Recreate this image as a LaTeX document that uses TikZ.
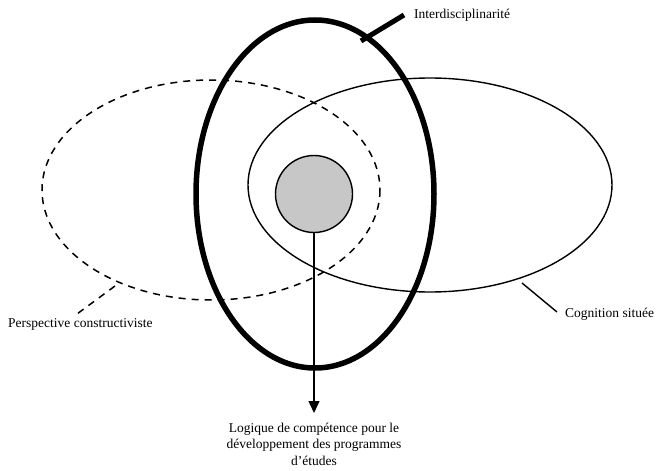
\documentclass[tikz,border=0pt]{standalone}
\usepackage{fontspec}
\setmainfont{Liberation Serif}
\usetikzlibrary{arrows.meta}
\begin{document}
\begin{tikzpicture}[x=1pt,y=-1pt,
  thin line/.style={line width=1.4pt},
  dash line/.style={line width=1.5pt,dash pattern=on 7pt off 6pt},
  thick line/.style={line width=5.5pt},
  lbl/.style={font=\fontsize{13.5}{16.5}\selectfont,inner sep=0pt}]
\useasboundingbox (0,0) rectangle (657,471);
\fill[white] (0,0) rectangle (657,471);
% dashed ellipse
\draw[dash line] (211,190) ellipse[x radius=169,y radius=110];
% cognition ellipse
\draw[thin line] (430,185) ellipse[x radius=182,y radius=107];
% thick ellipse
\draw[thick line] (315,194) ellipse[x radius=119,y radius=174];
% gray circle
\node[circle,draw,line width=1.4pt,fill=black!22,minimum size=77pt,inner sep=0pt] (core) at (314,194) {};
% labels
\node[lbl,anchor=base west] (inter) at (414,19) {Interdisciplinarité};
\node[lbl,anchor=base west] (persp) at (8,327) {Perspective constructiviste};
\node[lbl,anchor=base west] (cog) at (565,317) {Cognition située};
\node[lbl,align=center,anchor=base] (logic) at (314,465) {Logique de compétence pour le\\développement des programmes\\d’études};
% connectors
\coordinate (interA) at (361,41);
\coordinate (interB) at (404,15);
\draw[line width=5pt] (interA) -- (interB);
\coordinate (perA) at (115,286);
\coordinate (perB) at (77,314);
\draw[dash line] (perA) -- (perB);
\coordinate (cogA) at (522,283);
\coordinate (cogB) at (557,312);
\draw[thin line] (cogA) -- (cogB);
\coordinate (arrowEnd) at (314,413);
\draw[thin line,-{Triangle[length=12pt,width=11pt]}] (core.south) -- (arrowEnd);
\end{tikzpicture}
\end{document}
